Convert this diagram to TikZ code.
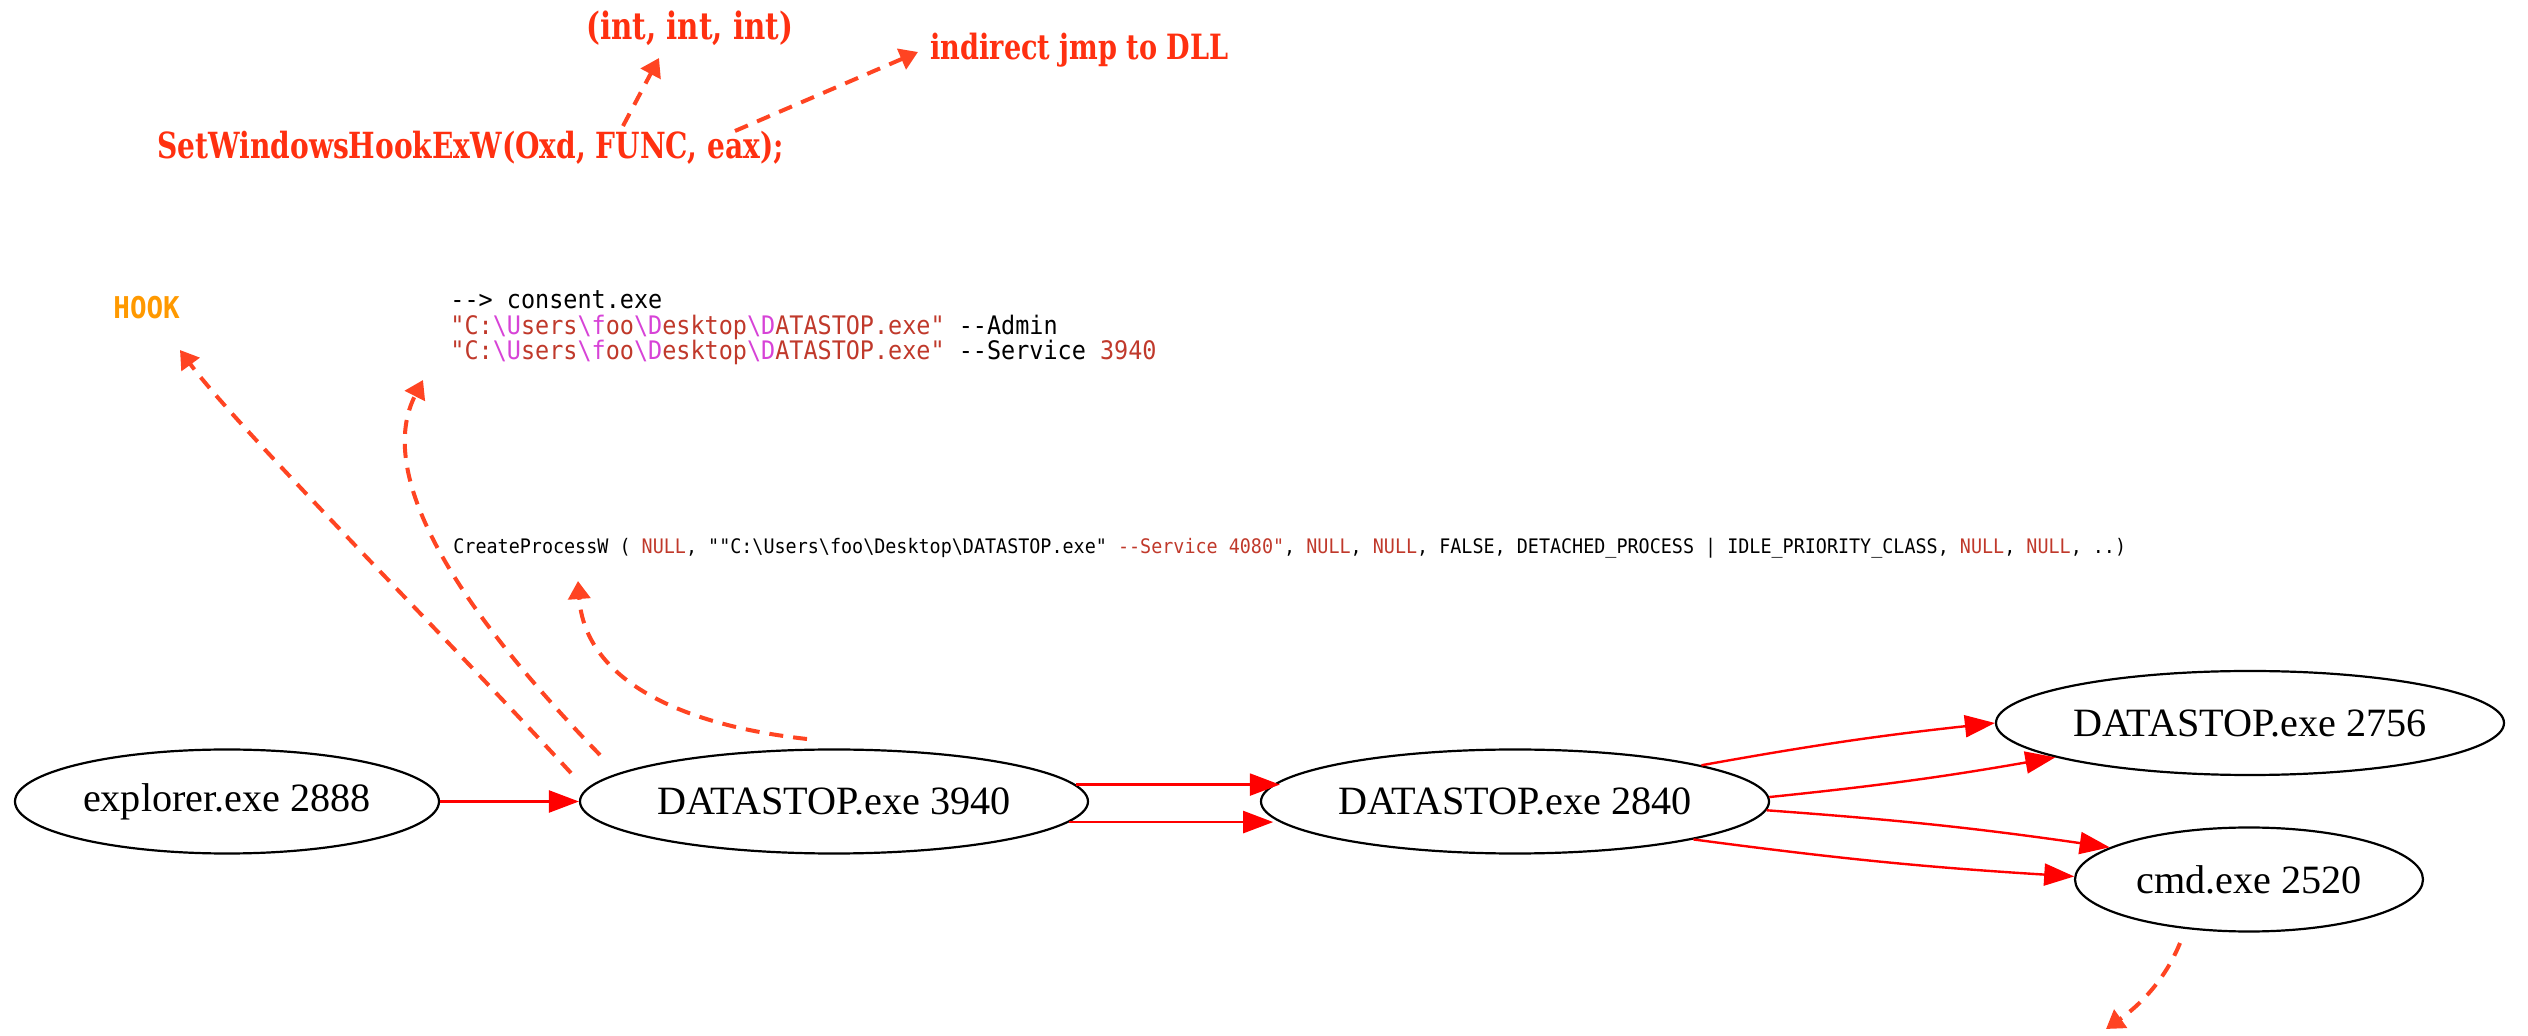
\documentclass[tikz,border=0pt]{standalone}
\usepackage{fontspec}
\usetikzlibrary{arrows.meta,shapes.geometric}
\newfontfamily\timesf{Liberation Serif}
\newfontfamily\monof[FakeStretch=0.92]{DejaVu Sans Mono}
\newfontfamily\slabf[FakeStretch=0.78]{DejaVu Serif}
\definecolor{dashc}{HTML}{FF4422}
\definecolor{hookc}{HTML}{FF9900}
\definecolor{funcc}{HTML}{FF3010}
\definecolor{strc}{HTML}{C0392B}
\definecolor{escc}{HTML}{D743D7}
\newcommand{\bs}{\textbackslash}
\newcommand{\lbl}[1]{\makebox[0pt]{#1}}
\newcommand{\dpath}{\textcolor{strc}{"C:}\textcolor{escc}{\bs U}\textcolor{strc}{sers}\textcolor{escc}{\bs f}\textcolor{strc}{oo}\textcolor{escc}{\bs D}\textcolor{strc}{esktop}\textcolor{escc}{\bs D}\textcolor{strc}{ATASTOP.exe"}}
\begin{document}
\begin{tikzpicture}[x=0.5pt,y=-0.5pt,
  proc/.style={ellipse,draw=black,line width=1.1pt,inner sep=0pt,minimum height=52pt,
    font=\timesf\fontsize{20.1pt}{22pt}\selectfont},
  redge/.style={draw=red,line width=1.2pt,-{Triangle[length=15pt,width=11pt]}},
  dedge/.style={draw=dashc,line width=2pt,dash pattern=on 7pt off 5pt,
    -{Triangle[length=9pt,width=11pt]}},
  slab/.style={anchor=base west,inner sep=0pt,text=funcc},
  cons/.style={anchor=base west,inner sep=0pt,font=\monof\fontsize{12.75pt}{15pt}\selectfont},
  small/.style={anchor=base west,inner sep=0pt,font=\monof\fontsize{10pt}{12pt}\selectfont},
  hookst/.style={anchor=base west,inner sep=0pt,text=hookc,font=\monof\bfseries\fontsize{15pt}{17pt}\selectfont}
]
\useasboundingbox (0,0) rectangle (2528,1036);

% process nodes
\node[proc,minimum width=212pt] (exp) at (227,801.5) {\lbl{explorer.exe 2888}};
\node[proc,minimum width=254pt] (d3940) at (834,801.5) {\lbl{DATASTOP.exe 3940}};
\node[proc,minimum width=254pt] (d2840) at (1515,801.5) {\lbl{DATASTOP.exe 2840}};
\node[proc,minimum width=254pt] (d2756) at (2250,723) {\lbl{DATASTOP.exe 2756}};
\node[proc,minimum width=174pt] (cmd) at (2249,879.5) {\lbl{cmd.exe 2520}};

% text nodes
\node[slab,font=\slabf\bfseries\fontsize{18pt}{20pt}\selectfont] (swh) at (157,159) {SetWindowsHookExW(Oxd, FUNC, eax);};
\node[slab,font=\slabf\bfseries\fontsize{18.8pt}{20pt}\selectfont] (iii) at (586,40) {(int, int, int)};
\node[slab,font=\slabf\bfseries\fontsize{17.4pt}{20pt}\selectfont] (ijd) at (930,60) {indirect jmp to DLL};
\node[hookst] (hook) at (113,319) {HOOK};
\node[cons] (c1) at (450,309) {-{}-> consent.exe};
\node[cons] (c2) at (450,334.5) {\dpath{} -{}-Admin};
\node[cons] (c3) at (450,360) {\dpath{} -{}-Service \textcolor{strc}{3940}};
\node[small] (cpw) at (453,554) {CreateProcessW ( \textcolor{strc}{NULL}, ""C:\bs Users\bs foo\bs Desktop\bs DATASTOP.exe" \textcolor{strc}{-{}-Service 4080"}, \textcolor{strc}{NULL}, \textcolor{strc}{NULL}, FALSE, DETACHED\_PROCESS | IDLE\_PRIORITY\_CLASS, \textcolor{strc}{NULL}, \textcolor{strc}{NULL}, ..)};

% red process edges
\draw[redge] (exp.east) -- (d3940.west);
\draw[redge] (d3940.4.9) -- (d3940.4.9 -| d2840.175.1);
\draw[redge] (d3940.355.4) -- (d3940.355.4 -| d2840.184.6);
\draw[redge] (d2840.11.3) to[bend left=2] (d2756.180);
\draw[redge] (d2840.1.8) to[bend right=2] (d2756.190.5);
\draw[redge] (d2840.358.2) to[bend left=2] (cmd.167.2);
\draw[redge] (d2840.348.4) to[bend right=2] (cmd.179.2);

% dashed annotation arrows
\coordinate (s1) at (623,126); \coordinate (t1) at (659,58);
\coordinate (s2) at (735,131); \coordinate (t2) at (918,52);
\coordinate (sA) at (571,773); \coordinate (tA) at (180,350);
\coordinate (sB) at (600,755); \coordinate (tB) at (423,380);
\coordinate (sC) at (807,739); \coordinate (tC) at (578,581);
\coordinate (sD) at (2180,943); \coordinate (tD) at (2106,1029);
\draw[dedge] (s1) -- (t1);
\draw[dedge] (s2) -- (t2);
\draw[dedge] (sA) .. controls (441,632) and (235,425) .. (tA);
\draw[dedge] (sB) .. controls (440,590) and (378,468) .. (tB);
\draw[dedge] (sC) .. controls (680,725) and (585,680) .. (tC);
\draw[dedge] (sD) .. controls (2165,980) and (2140,1005) .. (tD);
\end{tikzpicture}
\end{document}
